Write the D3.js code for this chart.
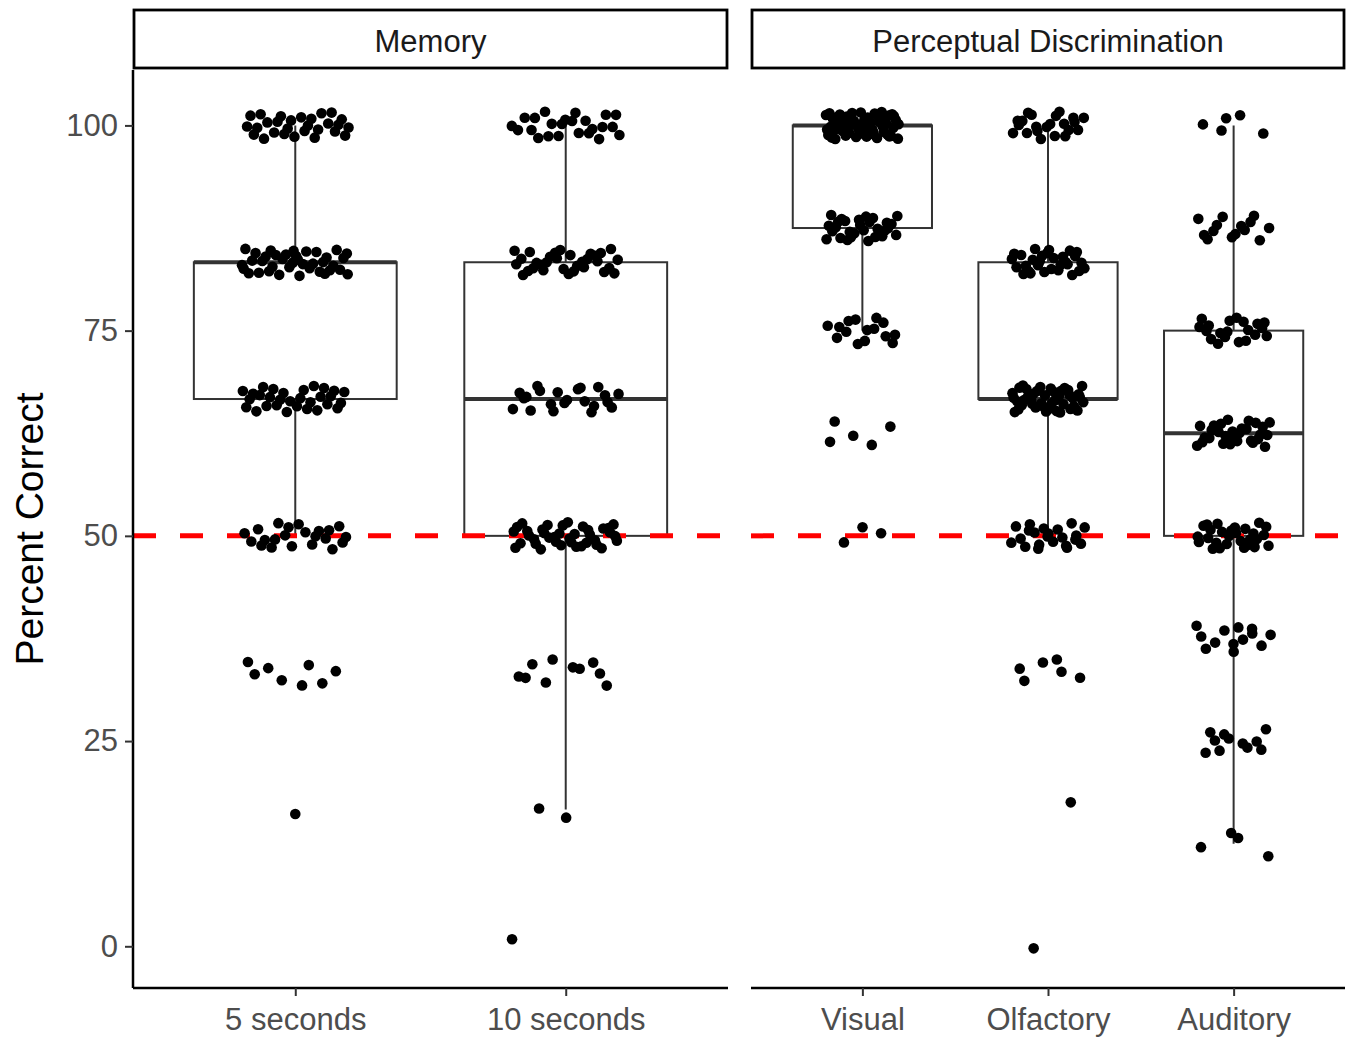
<!DOCTYPE html>
<html>
<head>
<meta charset="utf-8">
<script src="https://cdnjs.cloudflare.com/ajax/libs/d3/7.8.5/d3.min.js"></script>
<style>
    body { margin: 0; background: #fff; }
    text { font-family: "Liberation Sans", Arial, sans-serif; }
</style>
</head>
<body>
<div id="chartArea"></div>
<script>
///////////////////////////// DATA /////////////////////////////////////

var panels = ["Memory", "Perceptual Discrimination"];
var memory_groups = ["5 seconds", "10 seconds"];
var percept_groups = ["Visual", "Olfactory", "Auditory"];

// possible scores (6 or 8 trials)
var sixths = [0, 16.67, 33.33, 50, 66.67, 83.33, 100];
var eighths = [12.5, 25, 37.5, 50, 62.5, 75, 87.5, 100];

// number of participants at each score
var counts_5s = [0, 1, 8, 22, 30, 38, 28];
var counts_10s = [1, 2, 10, 38, 22, 32, 24];
var counts_visual = [0, 0, 0, 3, 5, 15, 30, 60];
var counts_olfactory = [1, 1, 6, 22, 42, 30, 22];
var counts_auditory = [4, 11, 13, 28, 30, 20, 14, 5];

var y_ticks = [0, 25, 50, 75, 100];
var chance_level = 50;

///////////////////////////// OPTIONS /////////////////////////////////////

var width = 1354,
    height = 1038,
    panel_top = 70,
    panel_bottom = 988,
    strip_top = 10,
    panel_x = [[133, 728], [751, 1345]];

var y = d3.scaleLinear().domain([-5.08, 106.75]).range([panel_bottom, panel_top]);

function expand(levels, counts) {
    var out = [];
    levels.forEach(function(v, i) {
        for (var k = 0; k < counts[i]; k++) out.push(v);
    });
    return out;
}

var groupData = [
    { panel: 0, name: "5 seconds", values: expand(sixths, counts_5s) },
    { panel: 0, name: "10 seconds", values: expand(sixths, counts_10s) },
    { panel: 1, name: "Visual", values: expand(eighths, counts_visual) },
    { panel: 1, name: "Olfactory", values: expand(sixths, counts_olfactory) },
    { panel: 1, name: "Auditory", values: expand(eighths, counts_auditory) }
];

// box stats (R type 7 quantiles, 1.5 IQR whiskers)
groupData.forEach(function(g) {
    var s = g.values.slice().sort(d3.ascending);
    g.q1 = d3.quantile(s, 0.25);
    g.med = d3.quantile(s, 0.5);
    g.q3 = d3.quantile(s, 0.75);
    var iqr = g.q3 - g.q1;
    g.lo = d3.min(s.filter(function(v) { return v >= g.q1 - 1.5 * iqr; }));
    g.hi = d3.max(s.filter(function(v) { return v <= g.q3 + 1.5 * iqr; }));
});

var svg = d3.select("#chartArea").append("svg")
    .attr("width", width)
    .attr("height", height);

// quasi-random (Halton 2,3) jitter, like geom_jitter(width = 0.2)
var seq = 0;
function halton(i, b) {
    var f = 1, r = 0;
    while (i > 0) {
        f = f / b;
        r = r + f * (i % b);
        i = Math.floor(i / b);
    }
    return r;
}

///////////////////////////// PANELS /////////////////////////////////////

panels.forEach(function(p, pi) {
    var x0 = panel_x[pi][0], x1 = panel_x[pi][1];
    var groups = pi == 0 ? memory_groups : percept_groups;
    var x = d3.scalePoint().domain(groups).range([x0, x1]).padding(0.6);
    var step = x.step();
    var data = groupData.filter(function(g) { return g.panel == pi; });

    var panel = svg.append("g").attr("class", "panel");

    // strip
    svg.append("rect")
        .attr("x", x0 + 1)
        .attr("y", strip_top)
        .attr("width", x1 - x0 - 2)
        .attr("height", panel_top - strip_top - 2)
        .style("fill", "#fff")
        .style("stroke", "#000")
        .style("stroke-width", 2.8);
    svg.append("text")
        .attr("x", (x0 + x1) / 2)
        .attr("y", 52)
        .style("text-anchor", "middle")
        .style("font-size", "31px")
        .style("fill", "#1A1A1A")
        .text(p);

    // boxes
    var box = panel.selectAll(".box").data(data).enter().append("g").attr("class", "box");
    box.append("line")
        .attr("x1", function(d) { return x(d.name); })
        .attr("x2", function(d) { return x(d.name); })
        .attr("y1", function(d) { return y(d.hi); })
        .attr("y2", function(d) { return y(d.lo); })
        .style("stroke", "#333").style("stroke-width", 2);
    box.append("rect")
        .attr("x", function(d) { return x(d.name) - 0.375 * step; })
        .attr("width", 0.75 * step)
        .attr("y", function(d) { return y(d.q3); })
        .attr("height", function(d) { return y(d.q1) - y(d.q3); })
        .style("fill", "#fff").style("stroke", "#333").style("stroke-width", 2);
    box.append("line")
        .attr("x1", function(d) { return x(d.name) - 0.375 * step; })
        .attr("x2", function(d) { return x(d.name) + 0.375 * step; })
        .attr("y1", function(d) { return y(d.med); })
        .attr("y2", function(d) { return y(d.med); })
        .style("stroke", "#333").style("stroke-width", 4);

    // chance line
    panel.append("line")
        .attr("x1", x0).attr("x2", x1)
        .attr("y1", y(chance_level)).attr("y2", y(chance_level))
        .style("stroke", "#FF0000")
        .style("stroke-width", 5)
        .style("stroke-dasharray", "23,24");

    // jittered dots
    data.forEach(function(g) {
        var pts = g.values.map(function(v) {
            seq++;
            return {
                x: x(g.name) + (halton(seq, 2) * 2 - 1) * 0.2 * step,
                v: v + (halton(seq, 3) * 2 - 1) * 1.67
            };
        });
        panel.selectAll(null).data(pts).enter().append("circle")
            .attr("cx", function(d) { return d.x; })
            .attr("cy", function(d) { return y(d.v); })
            .attr("r", 5.3)
            .style("fill", "#000");
    });

    // x axis
    var xAxis = d3.axisBottom(x).tickSizeInner(8).tickSizeOuter(0).tickPadding(12);
    var gx = svg.append("g")
        .attr("transform", "translate(0," + panel_bottom + ")")
        .call(xAxis);
    gx.select(".domain").attr("d", "M" + x0 + ",0H" + x1).style("stroke", "#000").style("stroke-width", 2.5);
    gx.selectAll(".tick line").style("stroke", "#333").style("stroke-width", 2);
    gx.selectAll(".tick text")
        .style("font-size", "31px")
        .style("fill", "#4D4D4D")
        .style("font-family", "'Liberation Sans', Arial, sans-serif");

    // y axis (left panel only)
    if (pi == 0) {
        var yAxis = d3.axisLeft(y).tickValues(y_ticks).tickSizeInner(8).tickSizeOuter(0).tickPadding(7);
        var gy = svg.append("g")
            .attr("transform", "translate(" + x0 + ",0)")
            .call(yAxis);
        gy.select(".domain").attr("d", "M0," + panel_top + "V" + panel_bottom).style("stroke", "#000").style("stroke-width", 2.5);
        gy.selectAll(".tick line").style("stroke", "#333").style("stroke-width", 2);
        gy.selectAll(".tick text")
            .style("font-size", "31px")
            .style("fill", "#4D4D4D")
            .style("font-family", "'Liberation Sans', Arial, sans-serif");
    }
});

// y title
svg.append("text")
    .attr("transform", "translate(43," + (panel_top + panel_bottom) / 2 + ") rotate(-90)")
    .style("text-anchor", "middle")
    .style("font-size", "39px")
    .style("fill", "#000")
    .text("Percent Correct");
</script>
</body>
</html>
